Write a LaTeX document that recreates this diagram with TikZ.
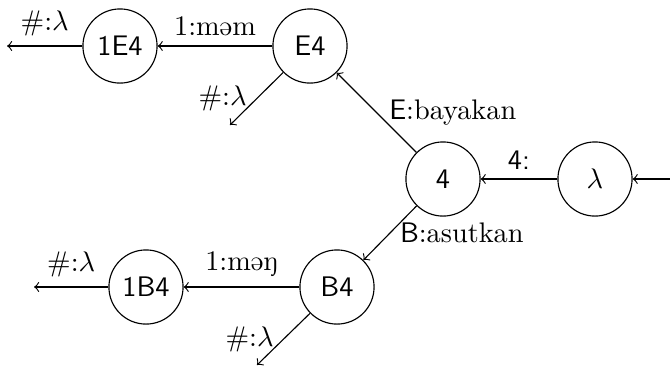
\documentclass[tikz,border=0pt]{standalone}
\begin{document}
\begin{tikzpicture}[
    x=0.3533pt, y=-0.3533pt,
    state/.style={draw, circle, minimum size=26.2pt, inner sep=0pt, font=\sffamily},
    trans/.style={->},
  ]
  \useasboundingbox (0,0) rectangle (670,367);

  % states
  \node[state] (lam) at (595,179) {$\lambda$};
  \node[state] (s4)  at (443,179) {4};
  \node[state] (e4)  at (310,46)  {E4};
  \node[state] (e14) at (120,46)  {1E4};
  \node[state] (b4)  at (337,287) {B4};
  \node[state] (b14) at (146,287) {1B4};

  % loose ends
  \coordinate (in)   at (670,179);
  \coordinate (e14x) at (7,46);
  \coordinate (e4x)  at (230,125);
  \coordinate (b14x) at (34,287);
  \coordinate (b4x)  at (257,365);

  % transitions
  \draw[trans] (in) -- (lam);
  \draw[trans] (lam) -- node[above] {\textsf{4:}} (s4);
  \draw[trans] (s4) -- node[pos=0.5, right, xshift=1pt] {\textsf{E}:bayakan} (e4);
  \draw[trans] (s4) -- node[pos=0.5, right] {\textsf{B}:asutkan} (b4);
  \draw[trans] (e4) -- node[above] {1:məm} (e14);
  \draw[trans] (e14) -- node[above] {\#:$\lambda$} (e14x);
  \draw[trans] (e4) -- node[left] {\#:$\lambda$} (e4x);
  \draw[trans] (b4) -- node[above] {1:məŋ} (b14);
  \draw[trans] (b14) -- node[above] {\#:$\lambda$} (b14x);
  \draw[trans] (b4) -- node[left] {\#:$\lambda$} (b4x);
\end{tikzpicture}
\end{document}
